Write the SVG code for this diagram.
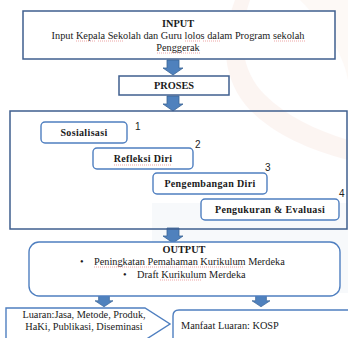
<svg xmlns="http://www.w3.org/2000/svg" width="348" height="338" viewBox="0 0 348 338">
<defs>
<style>
.t{font-family:"Liberation Serif","Times New Roman",serif;fill:#1a1a1a;font-size:10.3px}
.b{font-weight:bold}
.pb{font-family:"Liberation Serif","Times New Roman",serif;fill:#1a1a1a;font-size:10px;font-weight:bold;letter-spacing:0.35px}
.n{font-family:"Liberation Sans",Arial,sans-serif;fill:#222;font-size:10px}
.sq{fill:#fff;stroke:#3f5f8f;stroke-width:1.5}
.rb{fill:#fff;stroke:#4f7fc0;stroke-width:1.4}
.arr{fill:#4f81bd;stroke:#3b6496;stroke-width:0.8}
.sp{fill:none;stroke:#e06060;stroke-width:0.7;stroke-dasharray:1 1;opacity:0.8}
</style>
<path id="ar" d="M-6,0 H6 V8 H10 L0,15 L-10,8 H-6 Z"/>
</defs>
<rect width="348" height="338" fill="#fff"/>
<g id="watermark" opacity="0.35">
<path d="M235,0 C220,40 222,80 250,110 C275,135 310,150 348,160 L348,140 C315,130 285,115 265,95 C240,70 238,35 250,0 Z" fill="#f9e3dc"/>
<path d="M300,0 C330,30 345,60 348,80 L348,0 Z" fill="#fbeee8"/>
<rect x="152" y="203" width="196" height="90" fill="#e9eef5"/>
</g>
<g id="connectors">
<use href="#ar" x="173" y="60" class="arr"/>
<use href="#ar" x="173" y="96" class="arr"/>
<use href="#ar" x="173" y="228" class="arr"/>
<use href="#ar" x="104" y="294" class="arr" transform="translate(104 294) scale(0.9 0.85) translate(-104 -294)"/>
<use href="#ar" x="261" y="294" class="arr" transform="translate(261 294) scale(0.9 0.85) translate(-261 -294)"/>
</g>
<g id="input">
<rect x="23" y="11" width="312" height="48" class="sq"/>
<text x="178" y="27" text-anchor="middle" class="t b">INPUT</text>
<text x="178" y="39" text-anchor="middle" class="t">Input Kepala Sekolah dan Guru lolos dalam Program sekolah</text>
<text x="178" y="51" text-anchor="middle" class="t">Penggerak</text>
<path class="sp" d="M76,41 H95 M98,41 H123 M185,41 H200 M203,41 H221 M274,41 H306 M157,53 H200"/>
</g>
<g id="proses">
<rect x="119" y="76" width="110" height="19" class="sq"/>
<text x="174" y="89" text-anchor="middle" class="t b">PROSES</text>
</g>
<g id="proses-area">
<rect x="10" y="111" width="337" height="118" class="sq" style="fill:none"/>
</g>
<g id="sosialisasi">
<rect x="41" y="122" width="86" height="21" rx="4" class="rb"/>
<text x="84" y="136" text-anchor="middle" class="pb">Sosialisasi</text>
<text x="135" y="130" class="n">1</text>
</g>
<g id="refleksi">
<rect x="93" y="148" width="100" height="21" rx="4" class="rb"/>
<text x="143" y="162" text-anchor="middle" class="pb">Refleksi Diri</text>
<path class="sp" d="M114,165 H172"/>
<text x="195" y="148" class="n">2</text>
</g>
<g id="pengembangan">
<rect x="153" y="173" width="114" height="21" rx="4" class="rb"/>
<text x="210" y="187" text-anchor="middle" class="pb">Pengembangan Diri</text>
<text x="265" y="171" class="n">3</text>
</g>
<g id="pengukuran">
<rect x="201" y="199" width="138" height="21" rx="4" class="rb"/>
<text x="270" y="213" text-anchor="middle" class="pb">Pengukuran &amp; Evaluasi</text>
<text x="339" y="197" class="n">4</text>
</g>
<g id="output">
<rect x="29" y="242" width="311" height="54" rx="10" class="rb"/>
<text x="184" y="253" text-anchor="middle" class="t b">OUTPUT</text>
<text x="80" y="265" class="t">•</text>
<text x="94" y="265" class="t">Peningkatan Pemahaman  Kurikulum Merdeka</text>
<text x="123" y="278" class="t">•</text>
<text x="137" y="278" class="t">Draft Kurikulum Merdeka</text>
<path class="sp" d="M94,267 H244 M160,280 H201"/>
</g>
<g id="luaran">
<path d="M6,308 H145 L170,324 L145,340 H6 Z" class="rb"/>
<text x="84" y="318" text-anchor="middle" class="t">Luaran:Jasa, Metode, Produk,</text>
<text x="84" y="330" text-anchor="middle" class="t">HaKi, Publikasi, Diseminasi</text>
</g>
<g id="manfaat">
<path d="M173,345 V316 Q173,310 179,310 H352" class="rb"/>
<text x="181" y="329" class="t">Manfaat Luaran: KOSP</text>
</g>
</svg>
